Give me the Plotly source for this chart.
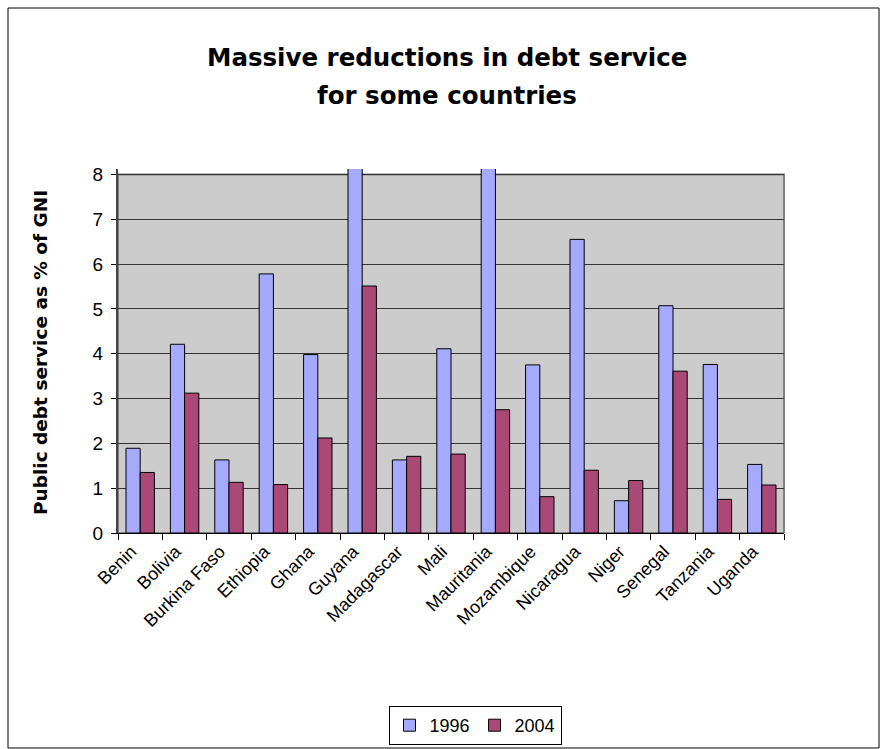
import plotly.graph_objects as go

countries = ["Benin", "Bolivia", "Burkina Faso", "Ethiopia", "Ghana", "Guyana",
             "Madagascar", "Mali", "Mauritania", "Mozambique", "Nicaragua",
             "Niger", "Senegal", "Tanzania", "Uganda"]
values_1996 = [1.89, 4.21, 1.63, 5.78, 3.98, 9.5, 1.63, 4.11, 9.5, 3.75, 6.55, 0.72, 5.07, 3.76, 1.53]
values_2004 = [1.35, 3.12, 1.13, 1.08, 2.12, 5.51, 1.71, 1.76, 2.75, 0.81, 1.40, 1.17, 3.61, 0.75, 1.07]
y_ticks = [0, 1, 2, 3, 4, 5, 6, 7, 8]

W, H = 881, 749
L, R, T, B = 118, 97, 169, 216
pw, ph = W - L - R, H - T - B

def px_x(p):
    return (p - L) / pw

def px_y(p):
    return (H - B - p) / ph

FONT = "Arial, Liberation Sans, sans-serif"
BOLD = "DejaVu Sans, Arial, sans-serif"

fig = go.Figure()
fig.add_bar(x=countries, y=values_1996, name="1996",
            marker=dict(color="#A6AAFF", line=dict(color="#000000", width=1)))
fig.add_bar(x=countries, y=values_2004, name="2004",
            marker=dict(color="#AA4876", line=dict(color="#000000", width=1)))

fig.update_layout(
    width=W, height=H,
    margin=dict(l=L, r=R, t=T, b=B, autoexpand=False),
    paper_bgcolor="white", plot_bgcolor="rgba(0,0,0,0)",
    barmode="group", bargap=0.36, bargroupgap=0,
    font=dict(family=FONT, color="#000000"),
    showlegend=True,
    legend=dict(orientation="h", x=px_x(475), xanchor="center",
                y=px_y(706), yanchor="top",
                bordercolor="#000000", borderwidth=1, bgcolor="white",
                font=dict(size=18, family=FONT), itemwidth=30,
                tracegroupgap=0),
    xaxis=dict(tickangle=-45, tickfont=dict(size=18, family=FONT),
               ticks="outside", tickson="boundaries", ticklen=6,
               tickcolor="#000000", showline=True, linecolor="#000000",
               linewidth=1, showgrid=False, ticklabelshift=-9),
    yaxis=dict(range=[0, 8.12], tickvals=y_ticks, ticktext=[str(v) for v in y_ticks],
               tickfont=dict(size=19, family=FONT), ticks="outside", ticklen=5,
               tickcolor="#000000", showline=True, linecolor="#444444", linewidth=2,
               showgrid=True, gridcolor="#333333", gridwidth=1, zeroline=False,
               ticklabelstandoff=4),
    shapes=[
        dict(type="rect", xref="x domain", yref="y", x0=0, x1=1, y0=0, y1=8,
             fillcolor="#CCCCCC", line=dict(color="#808080", width=2), layer="below"),
        dict(type="rect", xref="paper", yref="paper",
             x0=px_x(8), x1=px_x(879), y0=px_y(748), y1=px_y(8),
             line=dict(color="#000000", width=1), fillcolor="rgba(0,0,0,0)",
             layer="below"),
    ],
    annotations=[
        dict(text="<b>Massive reductions in debt service</b>", xref="paper", yref="paper",
             x=px_x(447), y=px_y(57), showarrow=False, xanchor="center", yanchor="middle",
             font=dict(size=24.5, family=BOLD)),
        dict(text="<b>for some countries</b>", xref="paper", yref="paper",
             x=px_x(447), y=px_y(95), showarrow=False, xanchor="center", yanchor="middle",
             font=dict(size=24.5, family=BOLD)),
        dict(text="<b>Public debt service as % of GNI</b>", xref="paper", yref="paper",
             x=px_x(40), y=px_y(353), showarrow=False, xanchor="center", yanchor="middle",
             textangle=-90, font=dict(size=18.5, family=BOLD)),
    ],
)

fig.write_html("out.html")
